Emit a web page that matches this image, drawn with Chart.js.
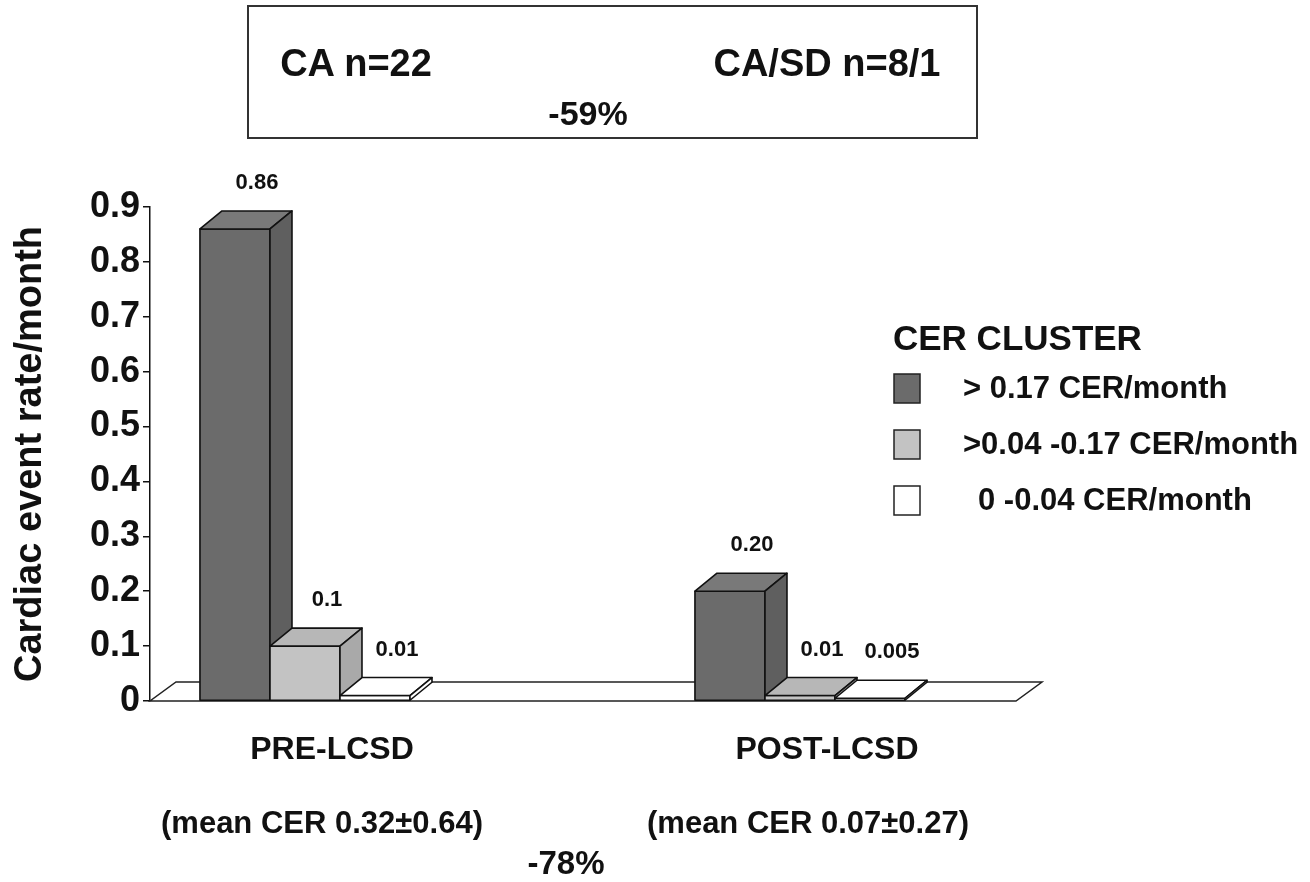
<!DOCTYPE html>
<html>
<head>
<meta charset="utf-8">
<script src="https://cdn.jsdelivr.net/npm/chart.js@4.4.0/dist/chart.umd.min.js"></script>
<style>
  html, body { margin: 0; padding: 0; background: #fff; }
  #wrap { position: relative; width: 1310px; height: 882px; font-family: 'Liberation Sans', Arial, sans-serif; font-weight: bold; color: #111; }
  #wrap canvas { position: absolute; left: 0; top: 0; }
  .note { position: absolute; white-space: nowrap; transform: translate(-50%, -50%); line-height: 1; }
  #box { position: absolute; left: 247px; top: 5px; width: 727px; height: 130px; border: 2px solid #333; }
</style>
</head>
<body>
<div id="wrap">
  <canvas id="chart" width="1310" height="882"></canvas>
  <div id="box"></div>
  <div class="note" style="left:356px; top:63px; font-size:38px;">CA n=22</div>
  <div class="note" style="left:827px; top:63px; font-size:38px;">CA/SD n=8/1</div>
  <div class="note" style="left:588px; top:113px; font-size:34px;">-59%</div>
  <div class="note" style="left:322px; top:822px; font-size:31px;">(mean CER 0.32±0.64)</div>
  <div class="note" style="left:808px; top:822px; font-size:31px;">(mean CER 0.07±0.27)</div>
  <div class="note" style="left:566px; top:862px; font-size:33px;">-78%</div>
</div>
<script>
// groups on the x axis
const groups = ['PRE-LCSD', 'POST-LCSD'];

// CER clusters (series)
const clusters = ['> 0.17 CER/month', '>0.04 -0.17 CER/month', '0 -0.04 CER/month'];
const highRate = [0.86, 0.20];
const midRate = [0.1, 0.01];
const lowRate = [0.01, 0.005];

// value labels as printed above the bars
const highText = ['0.86', '0.20'];
const midText = ['0.1', '0.01'];
const lowText = ['0.01', '0.005'];

// y axis
const yTicks = [0, 0.1, 0.2, 0.3, 0.4, 0.5, 0.6, 0.7, 0.8, 0.9];
const yTickLabels = ['0', '0.1', '0.2', '0.3', '0.4', '0.5', '0.6', '0.7', '0.8', '0.9'];

const FONT = "'Liberation Sans', Arial, sans-serif";
const INK = '#111';
const depth = { x: 22, y: -18 };      // 3d offset of the bars
const floorDepth = { x: 26, y: -19 };

const faces = [
    { front: '#6b6b6b', top: '#797979', side: '#5f5f5f' },
    { front: '#c3c3c3', top: '#b7b7b7', side: '#a9a9a9' },
    { front: '#ffffff', top: '#ffffff', side: '#ffffff' }
];

const series = [highRate, midRate, lowRate];
const seriesText = [highText, midText, lowText];

// floor under the bars
const floorPlugin = {
    id: 'floor',
    beforeDatasetsDraw(chart) {
        const { ctx, chartArea } = chart;
        const { left, right, bottom } = chartArea;
        ctx.save();
        ctx.beginPath();
        ctx.moveTo(left, bottom);
        ctx.lineTo(right, bottom);
        ctx.lineTo(right + floorDepth.x, bottom + floorDepth.y);
        ctx.lineTo(left + floorDepth.x, bottom + floorDepth.y);
        ctx.closePath();
        ctx.fillStyle = '#fff';
        ctx.fill();
        ctx.lineWidth = 1.5;
        ctx.strokeStyle = '#222';
        ctx.stroke();
        ctx.restore();
    }
};

function drawBox(ctx, bar, f) {
    const { x, y, base, width } = bar.getProps(['x', 'y', 'base', 'width'], true);
    const l = x - width / 2, r = x + width / 2;
    // front
    ctx.fillStyle = f.front;
    ctx.fillRect(l, y, width, base - y);
    ctx.strokeRect(l, y, width, base - y);
    // top
    ctx.beginPath();
    ctx.moveTo(l, y);
    ctx.lineTo(l + depth.x, y + depth.y);
    ctx.lineTo(r + depth.x, y + depth.y);
    ctx.lineTo(r, y);
    ctx.closePath();
    ctx.fillStyle = f.top;
    ctx.fill();
    ctx.stroke();
    // side
    ctx.beginPath();
    ctx.moveTo(r, y);
    ctx.lineTo(r + depth.x, y + depth.y);
    ctx.lineTo(r + depth.x, base + depth.y);
    ctx.lineTo(r, base);
    ctx.closePath();
    ctx.fillStyle = f.side;
    ctx.fill();
    ctx.stroke();
}

// 3d boxes drawn group by group, left to right, so each box covers the side of the one before
const boxPlugin = {
    id: 'box3d',
    afterDatasetsDraw(chart) {
        const ctx = chart.ctx;
        ctx.save();
        ctx.lineWidth = 1.6;
        ctx.strokeStyle = INK;
        ctx.lineJoin = 'round';
        groups.forEach((g, j) => {
            series.forEach((s, i) => {
                drawBox(ctx, chart.getDatasetMeta(i).data[j], faces[i]);
            });
        });
        // values
        ctx.fillStyle = INK;
        ctx.font = 'bold 22px ' + FONT;
        ctx.textAlign = 'center';
        ctx.textBaseline = 'middle';
        series.forEach((s, i) => {
            chart.getDatasetMeta(i).data.forEach((bar, j) => {
                const { x, y } = bar.getProps(['x', 'y'], true);
                ctx.fillText(seriesText[i][j], x + depth.x, y + depth.y - 28);
            });
        });
        ctx.restore();
    }
};

// group labels, legend
const labelPlugin = {
    id: 'labels',
    afterDraw(chart) {
        const ctx = chart.ctx;
        const xs = chart.scales.x;
        ctx.save();
        ctx.fillStyle = INK;
        ctx.textBaseline = 'middle';

        ctx.font = 'bold 32px ' + FONT;
        ctx.textAlign = 'center';
        groups.forEach((g, i) => {
            ctx.fillText(g, xs.getPixelForValue(i) + 27, 750);
        });

        ctx.textAlign = 'left';
        ctx.font = 'bold 35px ' + FONT;
        ctx.fillText('CER CLUSTER', 893, 340);

        ctx.font = 'bold 31px ' + FONT;
        chart.data.datasets.forEach((ds, i) => {
            const cy = 388 + i * 56;
            ctx.fillStyle = faces[i].front;
            ctx.fillRect(894, cy - 14, 26, 29);
            ctx.lineWidth = 1.5;
            ctx.strokeStyle = '#222';
            ctx.strokeRect(894, cy - 14, 26, 29);
            ctx.fillStyle = INK;
            ctx.fillText(ds.label, i === 2 ? 978 : 963, cy + 1);
        });
        ctx.restore();
    }
};

new Chart(document.getElementById('chart'), {
    type: 'bar',
    data: {
        datasets: series.map((vals, i) => ({
            label: clusters[i],
            data: vals.map((v, j) => ({ x: j, y: v })),
            backgroundColor: faces[i].front,
            borderWidth: 0,
            barThickness: 70
        }))
    },
    options: {
        responsive: false,
        animation: false,
        layout: {
            padding: { top: 207, right: 294, bottom: 181, left: 0 }
        },
        scales: {
            x: {
                type: 'linear',
                display: false,
                offset: false,
                bounds: 'data',
                min: -0.3131,
                max: 1.4364,
                afterBuildTicks: (scale) => {
                    scale.ticks = groups.map((g, i) => ({ value: i }));
                }
            },
            y: {
                min: 0,
                max: 0.9,
                afterBuildTicks: (scale) => {
                    scale.ticks = yTicks.map(v => ({ value: v }));
                },
                afterFit: (scale) => {
                    scale.width = 150;
                },
                ticks: {
                    color: INK,
                    padding: 3,
                    font: { family: FONT, size: 36, weight: 'bold' },
                    callback: (v, idx) => yTickLabels[idx]
                },
                grid: {
                    drawOnChartArea: false,
                    drawTicks: true,
                    tickLength: 7,
                    color: INK,
                    lineWidth: 1.5
                },
                border: { display: true, color: INK, width: 1.5 },
                title: {
                    display: true,
                    text: 'Cardiac event rate/month',
                    color: INK,
                    font: { family: FONT, size: 38, weight: 'bold' },
                    padding: { top: 8, bottom: 0 }
                }
            }
        },
        plugins: {
            legend: { display: false },
            tooltip: { enabled: false }
        }
    },
    plugins: [floorPlugin, boxPlugin, labelPlugin]
});
</script>
</body>
</html>
